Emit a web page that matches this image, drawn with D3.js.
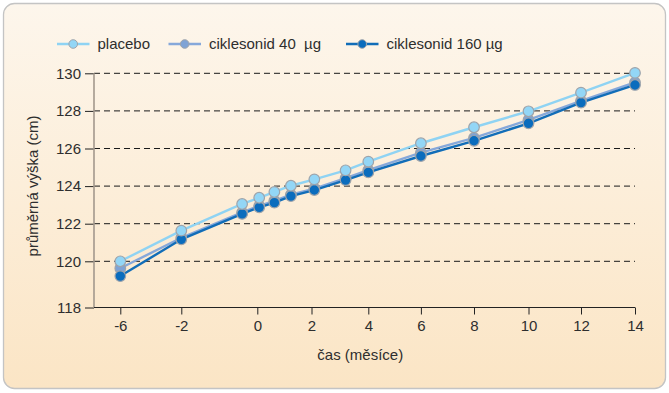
<!DOCTYPE html>
<html><head><meta charset="utf-8">
<script src="https://cdn.jsdelivr.net/npm/d3@7"></script>
<style>
html,body{margin:0;padding:0;background:#fff;}
svg{display:block;font-family:"Liberation Sans",Arial,Helvetica,sans-serif;}
</style></head>
<body><svg id="c" width="669" height="393"></svg>
<script>
// ---- data ----
const months = [-6, -2, -0.4, 0.07, 0.63, 1.24, 2.1, 3.2, 4, 6, 8, 10, 12, 14];
const placebo = [120.0, 121.63, 123.05, 123.38, 123.69, 124.02, 124.36, 124.84, 125.3, 126.28, 127.13, 127.98, 128.97, 130.02];
const ciclo40 = [119.7, 121.25, 122.6, 122.95, 123.22, 123.55, 123.87, 124.42, 124.85, 125.78, 126.56, 127.52, 128.53, 129.52];
const ciclo160 = [119.36, 121.17, 122.52, 122.87, 123.12, 123.47, 123.79, 124.32, 124.73, 125.6, 126.41, 127.34, 128.44, 129.38];
const seriesNames = ["placebo", "ciklesonid 40\u00a0\u00a0µg", "ciklesonid 160 µg"];
const xTicks = [-6, -2, 0, 2, 4, 6, 8, 10, 12, 14];
const yTicks = [118, 120, 122, 124, 126, 128, 130];
const xTitle = "čas (měsíce)";
const yTitle = "průměrná výška (cm)";

const colors = {line: ["#8fd3f3", "#86a8da", "#116db8"], fill: ["#93d6f6", "#7fa3d5", "#0a6cbd"]};

const svg = d3.select("#c");
const defs = svg.append("defs");
const grad = defs.append("linearGradient").attr("id", "bg").attr("x1", 0).attr("y1", 0).attr("x2", 0).attr("y2", 1);
grad.append("stop").attr("offset", "0%").attr("stop-color", "#fdf6ec");
grad.append("stop").attr("offset", "100%").attr("stop-color", "#fbe5c5");

svg.append("rect").attr("x", 3.5).attr("y", 3.5).attr("width", 662).attr("height", 385)
  .attr("rx", 11).attr("fill", "url(#bg)").attr("stroke", "#c4c4c4").attr("stroke-width", 1.3);

// scales (piecewise, as in the original broken axes)
const x = d3.scaleLinear().domain(xTicks).range([120.3, 181.3, 257.3, 311.5, 368.3, 420.9, 474, 528.5, 581, 635]);
const y = d3.scaleLinear().domain([118, 120, 130]).range([307.5, 261.3, 73.3]);
const axisX0 = 94;
const fmt = d => String(d);

// gridlines
svg.append("g").selectAll("line").data(yTicks.filter(d => d > 118)).join("line")
  .attr("x1", axisX0).attr("x2", x(14)).attr("y1", d => y(d)).attr("y2", d => y(d))
  .attr("stroke", "#1a1a1a").attr("stroke-width", 1).attr("stroke-dasharray", "6,4");

// y axis
const gy = svg.append("g").attr("transform", `translate(${axisX0},0)`)
  .call(d3.axisLeft(y).tickValues(yTicks).tickFormat(fmt).tickSize(9).tickPadding(4));
gy.select(".domain").remove();
gy.selectAll(".tick line").attr("stroke", "#222");
gy.selectAll(".tick text").attr("font-size", 15).attr("fill", "#2e2e2e").attr("font-family", null);
svg.append("line").attr("x1", axisX0).attr("x2", axisX0).attr("y1", y(130)).attr("y2", y(118))
  .attr("stroke", "#a3988d").attr("stroke-width", 1.6);

// x axis
const gx = svg.append("g").attr("transform", `translate(0,${y(118)})`)
  .call(d3.axisBottom(x).tickValues(xTicks).tickFormat(fmt).tickSize(7).tickPadding(6));
gx.select(".domain").remove();
gx.selectAll(".tick line").attr("stroke", "#222");
gx.selectAll(".tick text").attr("font-size", 15).attr("fill", "#2e2e2e").attr("font-family", null);
svg.append("line").attr("x1", axisX0).attr("x2", x(14)).attr("y1", y(118)).attr("y2", y(118))
  .attr("stroke", "#222").attr("stroke-width", 1);

// titles
svg.append("text").attr("x", x(4) - 8).attr("y", 360).attr("text-anchor", "middle")
  .attr("font-size", 15).attr("fill", "#2e2e2e").text(xTitle);
svg.append("text").attr("transform", "translate(38,186) rotate(-90)").attr("text-anchor", "middle")
  .attr("font-size", 15).attr("fill", "#2e2e2e").text(yTitle);

// series
const all = [placebo, ciclo40, ciclo160];
const order = [1, 2, 0];
const line = d3.line().x((d, i) => x(months[i])).y(d => y(d));
order.forEach(s => {
  svg.append("path").attr("d", line(all[s])).attr("fill", "none")
    .attr("stroke", colors.line[s]).attr("stroke-width", 2.4);
});
order.forEach(s => {
  svg.append("g").selectAll("circle").data(all[s]).join("circle")
    .attr("cx", (d, i) => x(months[i])).attr("cy", d => y(d)).attr("r", 5.3)
    .attr("fill", colors.fill[s]).attr("stroke", "#9ea4ab").attr("stroke-width", 1.2);
});

// legend
const legX = [57, 168.5, 346];
const lg = svg.append("g");
seriesNames.forEach((n, s) => {
  const g = lg.append("g").attr("transform", `translate(${legX[s]},44)`);
  g.append("line").attr("x1", 0).attr("x2", 32.5).attr("stroke", colors.line[s]).attr("stroke-width", 2.6);
  g.append("circle").attr("cx", 16.2).attr("r", 4.3).attr("fill", colors.fill[s])
    .attr("stroke", "#9ea4ab").attr("stroke-width", 1);
  g.append("text").attr("x", 40.5).attr("dy", "0.36em").attr("font-size", 15)
    .attr("fill", "#2e2e2e").text(n);
});
</script></body></html>
